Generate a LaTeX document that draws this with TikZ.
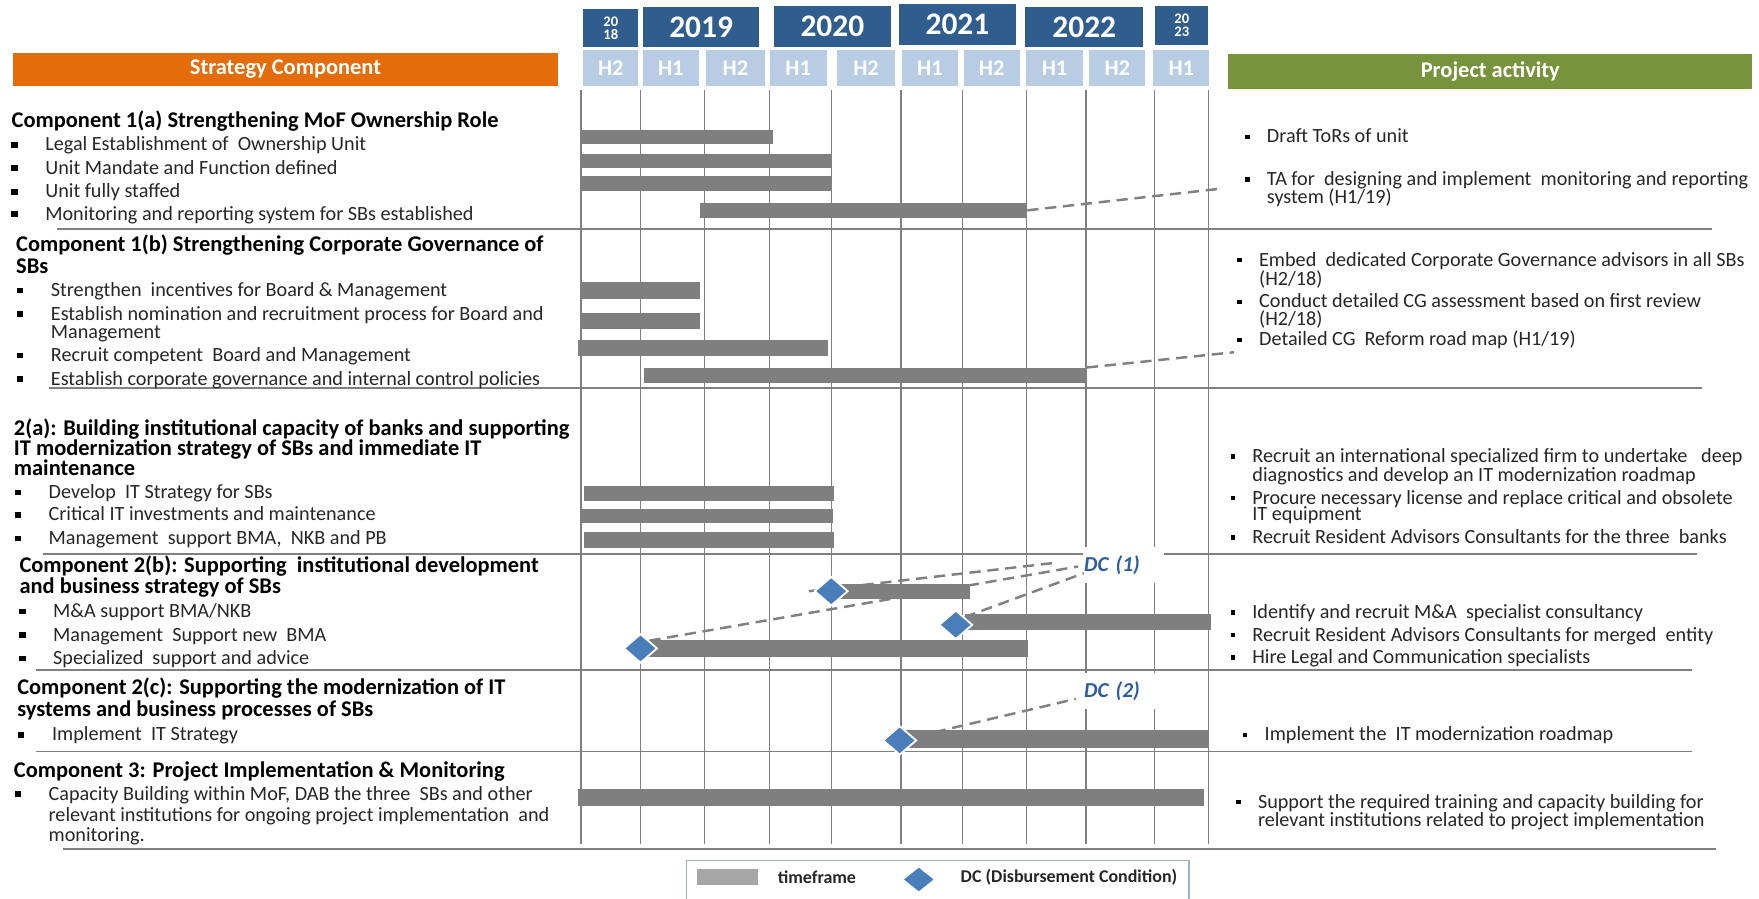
\documentclass[tikz,border=0pt]{standalone}
\usepackage{fontspec}
\setmainfont{Carlito}
\usetikzlibrary{shapes.geometric}
\pgfdeclarelayer{gridl}
\pgfdeclarelayer{midl}
\pgfdeclarelayer{dashl}
\pgfsetlayers{gridl,midl,dashl,main}
\definecolor{ybox}{HTML}{2F5D8E}
\definecolor{hbox}{HTML}{B8CCE4}
\definecolor{orng}{HTML}{E46C0A}
\definecolor{grn}{HTML}{77933C}
\definecolor{barc}{HTML}{7F7F7F}
\definecolor{gridc}{HTML}{808080}
\definecolor{dmd}{HTML}{4A7EBB}
\definecolor{dct}{HTML}{2E5E9E}
\definecolor{txt}{HTML}{262626}
\definecolor{leg}{HTML}{A6A6A6}
\definecolor{legb}{HTML}{9DB0C6}
\tikzset{
 lt/.style={anchor=west, inner sep=0pt, text=txt, font=\fontsize{9}{10}\selectfont, text height=5.4pt, text depth=0pt},
 hd/.style={anchor=west, inner sep=0pt, text=black, font=\bfseries\fontsize{10}{11}\selectfont, text height=6pt, text depth=0pt},
 sq/.style={fill=black, inner sep=0pt, minimum width=2.8pt, minimum height=2.5pt},
 sqr/.style={fill=black, inner sep=0pt, minimum size=2pt},
 ganttbar/.style={fill=barc, inner sep=0pt, anchor=west},
 dcond/.style={diamond, fill=dmd, draw=white, line width=0.8pt, inner sep=0pt, minimum width=15pt, minimum height=13pt},
 dashln/.style={draw=gridc, line width=1.1pt, dash pattern=on 5pt off 3pt},
 gridln/.style={draw=gridc, line width=0.6pt},
 sepln/.style={draw=gridc, line width=0.7pt},
 yr/.style={fill=ybox, text=white, font=\bfseries\fontsize{14}{14}\selectfont, inner sep=0pt, align=center},
 hf/.style={fill=hbox, text=white, font=\bfseries\fontsize{10}{10}\selectfont, inner sep=0pt, minimum height=16pt},
 dclab/.style={fill=white, text=dct, font=\bfseries\itshape\fontsize{9.5}{10}\selectfont, inner xsep=0.5pt, inner ysep=0pt, text width=35pt, align=left, minimum height=16pt, anchor=west},
 hdr/.style={text=white, font=\bfseries\fontsize{10}{10}\selectfont, inner sep=0pt},
}
\newcommand\litem[4]{\node[sq] (#1s) at ({#2-27},#3) {}; \node[lt] (#1) at (#2,#3) {#4};}
\newcommand\ritem[4]{\node[sqr] (#1s) at ({#2-17},#3) {}; \node[lt] (#1) at (#2,#3) {#4};}
\newcommand\mkbar[5]{\pgfmathsetmacro\mybw{(#3-#2)*0.5}\pgfmathsetmacro\mybh{#5*0.5}\node[ganttbar, minimum width=\mybw pt, minimum height=\mybh pt] (#1) at (#2,#4) {};}
\begin{document}
\begin{tikzpicture}[x=0.5pt,y=-0.5pt]
\useasboundingbox (0,0) rectangle (1568,801);
% headers
\node[hdr, fill=orng, minimum width=242.5pt, minimum height=15pt] (strat) at (254.5,62) {Strategy Component};
\node[hdr, fill=grn, minimum width=233.5pt, minimum height=15.5pt] (proj) at (1328.5,63.5) {Project activity};
% years
\node[yr, minimum width=24.5pt, minimum height=17pt, font=\bfseries\fontsize{6.5}{6}\selectfont] (y18) at (544.5,25) {20\\18};
\node[yr, minimum width=52pt, minimum height=18pt] (y19) at (625,24) {2019};
\node[yr, minimum width=52pt, minimum height=18.5pt] (y20) at (742,23.5) {2020};
\node[yr, minimum width=52.5pt, minimum height=18pt] (y21) at (853.5,22) {2021};
\node[yr, minimum width=52.5pt, minimum height=18pt] (y22) at (966.5,24) {2022};
\node[yr, minimum width=23.5pt, minimum height=17.5pt, font=\bfseries\fontsize{6.5}{6}\selectfont] (y23) at (1053.5,22.5) {20\\23};
% half years
\node[hf, minimum width=24.5pt] (h1) at (544.5,61) {H2};
\node[hf, minimum width=25pt] (h2) at (598,61) {H1};
\node[hf, minimum width=26.5pt] (h3) at (655.5,61) {H2};
\node[hf, minimum width=25.5pt] (h4) at (711.5,61) {H1};
\node[hf, minimum width=26pt] (h5) at (772,61) {H2};
\node[hf, minimum width=25pt] (h6) at (829,61) {H1};
\node[hf, minimum width=25pt] (h7) at (884,61) {H2};
\node[hf, minimum width=25pt] (h8) at (940,61) {H1};
\node[hf, minimum width=25pt] (h9) at (996,61) {H2};
\node[hf, minimum width=25pt] (h10) at (1053,61) {H1};
% grid
\begin{pgfonlayer}{gridl}
\foreach \gx in {518,571,628,686,741,803,858,915,968,1029,1077}
  \draw[gridln] (\gx,80) -- (\gx,752);
\draw[sepln] (51,204) -- (1526,204);
\draw[sepln] (44,346) -- (1517,346);
\draw[sepln] (38,494) -- (1513,494);
\draw[sepln] (32,597) -- (1508,597);
\draw[sepln] (32,670) -- (1508,670);
\draw[sepln] (56,757) -- (1530,757);
\end{pgfonlayer}
% left column
\node[hd] (c1a) at (10,108) {Component 1(a) Strengthening MoF Ownership Role};
\litem{a1}{40}{129}{Legal Establishment of\ \ Ownership Unit}
\litem{a2}{40}{150}{Unit Mandate and Function defined}
\litem{a3}{40}{171}{Unit fully staffed}
\litem{a4}{40}{191}{Monitoring and reporting system for SBs established}
\node[hd] (c1b) at (14,218) {Component 1(b) Strengthening Corporate Governance of};
\node[hd] (c1bb) at (14,238) {SBs};
\litem{b1}{45}{259}{Strengthen\ \ incentives for Board \& Management}
\litem{b2}{45}{280}{Establish nomination and recruitment process for Board and}
\node[lt] (b2b) at (45,296) {Management};
\litem{b3}{45}{317}{Recruit competent\ \ Board and Management}
\litem{b4}{45}{338}{Establish corporate governance and internal control policies}
\node[hd] (c2a) at (12,382) {2(a): Building institutional capacity of banks and supporting};
\node[hd] (c2ab) at (12,400) {IT modernization strategy of SBs and immediate IT};
\node[hd] (c2ac) at (12,418) {maintenance};
\litem{d1t}{43}{439}{Develop\ \ IT Strategy for SBs}
\litem{d2t}{43}{459}{Critical IT investments and maintenance}
\litem{d3t}{43}{480}{Management\ \ support BMA,\ \ NKB and PB}
\node[hd] (c2b) at (17,504) {Component 2(b): Supporting\ \ institutional development};
\node[hd] (c2bb) at (17,523) {and business strategy of SBs};
\litem{e1t}{47}{545}{M\&A support BMA/NKB}
\litem{e2t}{47}{566}{Management\ \ Support new\ \ BMA}
\litem{e3t}{47}{587}{Specialized\ \ support and advice}
\node[hd] (c2c) at (15,613) {Component 2(c): Supporting the modernization of IT};
\node[hd] (c2cb) at (15,633) {systems and business processes of SBs};
\litem{f1t}{46}{655}{Implement\ \ IT Strategy}
\node[hd] (c3) at (12,687) {Component 3: Project Implementation \& Monitoring};
\litem{g1t}{43}{708}{Capacity Building within MoF, DAB the three\ \ SBs and other}
\node[lt] (g1b) at (43,727) {relevant institutions for ongoing project implementation\ \ and};
\node[lt] (g1c) at (43,745) {monitoring.};
% right column
\ritem{r1}{1129}{122}{Draft ToRs of unit}
\ritem{r2}{1129}{160}{TA for\ \ designing and implement\ \ monitoring and reporting}
\node[lt] (r2b) at (1129,176) {system (H1/19)};
\ritem{r3}{1122}{232}{Embed\ \ dedicated Corporate Governance advisors in all SBs}
\node[lt] (r3b) at (1122,249) {(H2/18)};
\ritem{r4}{1122}{269}{Conduct detailed CG assessment based on first review}
\node[lt] (r4b) at (1122,285) {(H2/18)};
\ritem{r5}{1122}{303}{Detailed CG\ \ Reform road map (H1/19)};
\ritem{r6}{1116}{407}{Recruit an international specialized firm to undertake\ \ \ deep}
\node[lt] (r6b) at (1116,424) {diagnostics and develop an IT modernization roadmap};
\ritem{r7}{1116}{444}{Procure necessary license and replace critical and obsolete}
\node[lt] (r7b) at (1116,459) {IT equipment};
\ritem{r8}{1116}{479}{Recruit Resident Advisors Consultants for the three\ \ banks}
\ritem{r9}{1116}{546}{Identify and recruit M\&A\ \ specialist consultancy}
\ritem{r10}{1116}{566}{Recruit Resident Advisors Consultants for merged\ \ entity}
\ritem{r11}{1116}{586}{Hire Legal and Communication specialists}
\ritem{r12}{1127}{655}{Implement the\ \ IT modernization roadmap}
\ritem{r13}{1121}{715}{Support the required training and capacity building for}
\node[lt] (r13b) at (1121,731) {relevant institutions related to project implementation};
% bars
\mkbar{ba1}{518}{689}{122}{12}
\mkbar{ba2}{517}{740}{143.5}{13}
\mkbar{ba3}{518}{740}{163.5}{13}
\mkbar{ba4}{624}{915}{187.5}{13}
\mkbar{bb1}{518}{624}{259}{15}
\mkbar{bb2}{518}{624}{286}{14}
\mkbar{bb3}{515}{738}{310}{14}
\mkbar{bb4}{574}{968}{334.5}{13}
\mkbar{bc1}{520}{743}{440}{13}
\mkbar{bc2}{518}{742}{460}{13}
\mkbar{bc3}{520}{743}{481.5}{14}
\mkbar{be1}{747}{864}{527.5}{13}
\mkbar{be2}{860}{1079}{554.5}{15}
\mkbar{be3}{574}{916}{578}{15}
\mkbar{bf1}{807}{1076}{659}{16}
\mkbar{bg1}{515}{1073}{711}{15}
% diamonds
\node[dcond] (dm1) at (741,527) {};
\node[dcond] (dm2) at (852,557) {};
\node[dcond] (dm3) at (571,578) {};
\node[dcond] (dm4) at (802,660) {};
% DC labels
\begin{pgfonlayer}{midl}
\node[dclab] (dc1) at (965,504) {DC (1)};
\node[dclab] (dc2) at (965,616) {DC (2)};
\end{pgfonlayer}
\coordinate (ta) at (1090,168);
\coordinate (cg) at (1100,314);
\begin{pgfonlayer}{dashl}
\draw[dashln] (ba4.east) -- (ta);
\draw[dashln] (bb4.north east) -- (cg);
\draw[dashln] ([xshift=-2pt]dm1.west) -- ([shift={(-27,-2)}]dc1.west);
\draw[dashln] (dm3.north east) -- ([shift={(-4,1)}]dc1.west);
\draw[dashln] (dm2.north east) -- ([shift={(1,7)}]dc1.west);
\draw[dashln] (dm4.center) -- ([shift={(-6,7)}]dc2.west);
\end{pgfonlayer}
% legend
\node[draw=legb, line width=0.7pt, minimum width=224pt, minimum height=20pt, inner sep=0pt] (legend) at (836,787) {};
\node[fill=leg, minimum width=27.5pt, minimum height=7pt, inner sep=0pt] (lgbar) at (648.5,782) {};
\node[anchor=west, inner sep=0pt, text=txt, font=\bfseries\fontsize{8}{8}\selectfont] (lgtf) at (693,782) {timeframe};
\node[dcond, minimum width=15pt, minimum height=12pt] (lgd) at (819,784) {};
\node[anchor=west, inner sep=0pt, text=txt, font=\bfseries\fontsize{8}{8}\selectfont] (lgdc) at (856,782) {DC (Disbursement Condition)};
\end{tikzpicture}
\end{document}
